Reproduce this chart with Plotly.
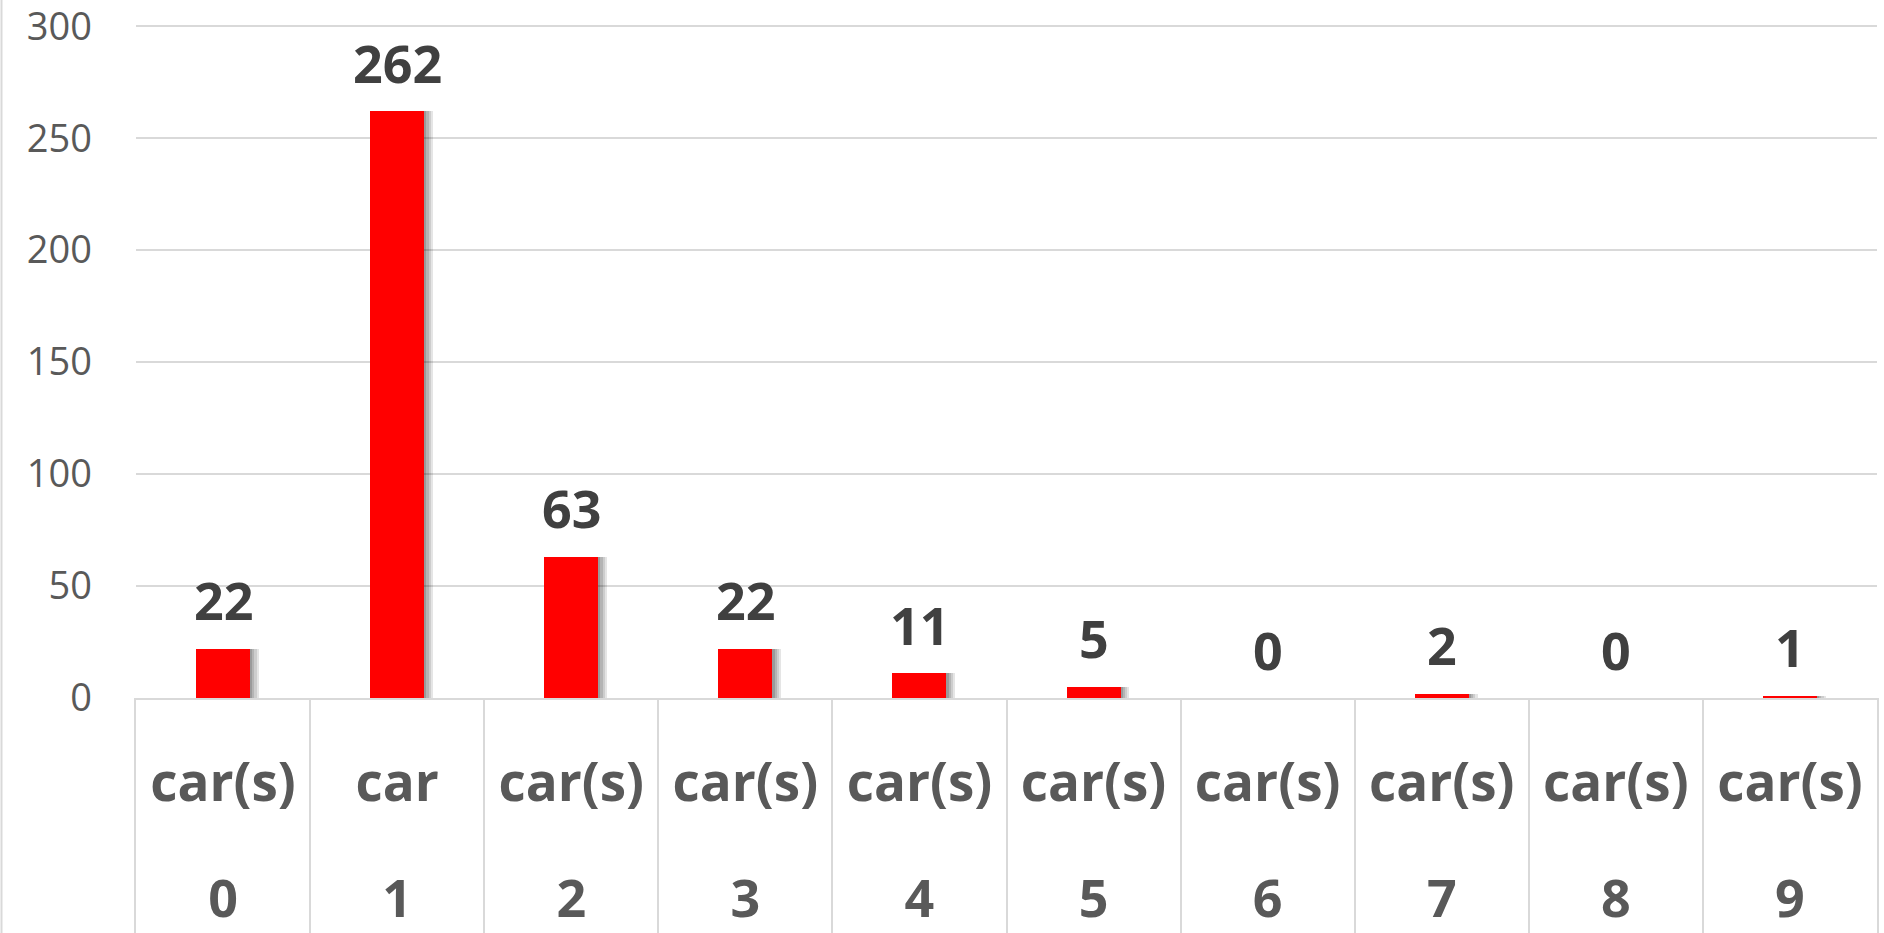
import plotly.graph_objects as go

# ---- data ----
num_labels = ["0", "1", "2", "3", "4", "5", "6", "7", "8", "9"]
unit_labels = ["car(s)", "car", "car(s)", "car(s)", "car(s)", "car(s)", "car(s)", "car(s)", "car(s)", "car(s)"]
counts = [22, 262, 63, 22, 11, 5, 0, 2, 0, 1]
y_ticks = [0, 50, 100, 150, 200, 250, 300]

# ---- style ----
FONT = "Open Sans"
RED = "#ff0000"
GRID = "#d9d9d9"
TICK_C = "#595959"
LABEL_C = "#404040"
W, H = 1884, 933
ML, MR, MT = 136, 7, 24
AXIS_Y = 698
PLOT_H = H - MT
split = (H - AXIS_Y) / PLOT_H
BAR_W = 0.31
PX_PER_CAT = (W - ML - MR) / len(num_labels)

fig = go.Figure()

# soft shadow layers behind the bars
for k, op in [(4, 0.10), (3, 0.10), (2, 0.12), (1, 0.14)]:
    fig.add_trace(go.Bar(
        x=num_labels, y=counts, width=BAR_W,
        offset=-BAR_W / 2 + k * 2.2 / PX_PER_CAT,
        marker=dict(color=f"rgba(0,0,0,{op})", line=dict(width=0)),
        xaxis="x", yaxis="y", hoverinfo="skip", showlegend=False,
    ))

# main bars
fig.add_trace(go.Bar(
    x=num_labels, y=counts, width=BAR_W, offset=-BAR_W / 2,
    marker=dict(color=RED, line=dict(width=0)),
    xaxis="x", yaxis="y", showlegend=False,
))

# category table text rows
fig.add_trace(go.Scatter(
    x=num_labels, y=[0.62] * len(num_labels), text=unit_labels, mode="text",
    textfont=dict(family=FONT, size=53, color=TICK_C, weight="bold"),
    xaxis="x2", yaxis="y2", hoverinfo="skip", showlegend=False, cliponaxis=False,
))
fig.add_trace(go.Scatter(
    x=num_labels, y=[0.125] * len(num_labels), text=num_labels, mode="text",
    textfont=dict(family=FONT, size=52, color=TICK_C, weight="bold"),
    xaxis="x2", yaxis="y2", hoverinfo="skip", showlegend=False, cliponaxis=False,
))

# data labels
annotations = []
for cat, v in zip(num_labels, counts):
    annotations.append(dict(
        x=cat, y=v, xref="x", yref="y", text=str(v), showarrow=False,
        yshift=49, yanchor="middle",
        font=dict(family=FONT, size=52, color=LABEL_C, weight="bold"),
    ))

fig.update_layout(
    template="none",
    width=W, height=H,
    margin=dict(l=ML, r=MR, t=MT, b=0, pad=0, autoexpand=False),
    paper_bgcolor="white", plot_bgcolor="white",
    barmode="overlay", bargap=0,
    annotations=annotations,
    xaxis=dict(
        type="category", anchor="y", range=[-0.5, len(num_labels) - 0.5],
        showticklabels=False, ticks="", showgrid=False, zeroline=False,
        showline=True, linecolor=GRID, linewidth=2, layer="above traces",
        automargin=False,
    ),
    yaxis=dict(
        domain=[split, 1], range=[0, 301], tickvals=y_ticks,
        showgrid=True, gridcolor=GRID, gridwidth=2, zeroline=False,
        showline=False, ticks="", ticklabelstandoff=43, automargin=False,
        ticklabeloverflow="allow",
        tickfont=dict(family=FONT, size=38, color=TICK_C),
    ),
    xaxis2=dict(
        type="category", anchor="y2", matches="x",
        showticklabels=False, ticks="", tickson="boundaries",
        showgrid=True, gridcolor=GRID, gridwidth=2, zeroline=False,
        showline=False, automargin=False,
    ),
    yaxis2=dict(
        domain=[0, split], range=[0, 1], showticklabels=False, ticks="",
        showgrid=False, zeroline=False, automargin=False,
        showline=True, mirror=True, linecolor=GRID, linewidth=2,
    ),
    shapes=[dict(
        type="line", xref="paper", yref="paper",
        x0=-(ML - 1.5) / (W - ML - MR), x1=-(ML - 1.5) / (W - ML - MR),
        y0=0, y1=1 + MT / PLOT_H, line=dict(color=GRID, width=2),
    )],
)

fig.write_html(
    "out.html",
    config={"displayModeBar": False},
    post_script="document.body.style.margin='0';document.body.style.overflow='hidden';",
)
